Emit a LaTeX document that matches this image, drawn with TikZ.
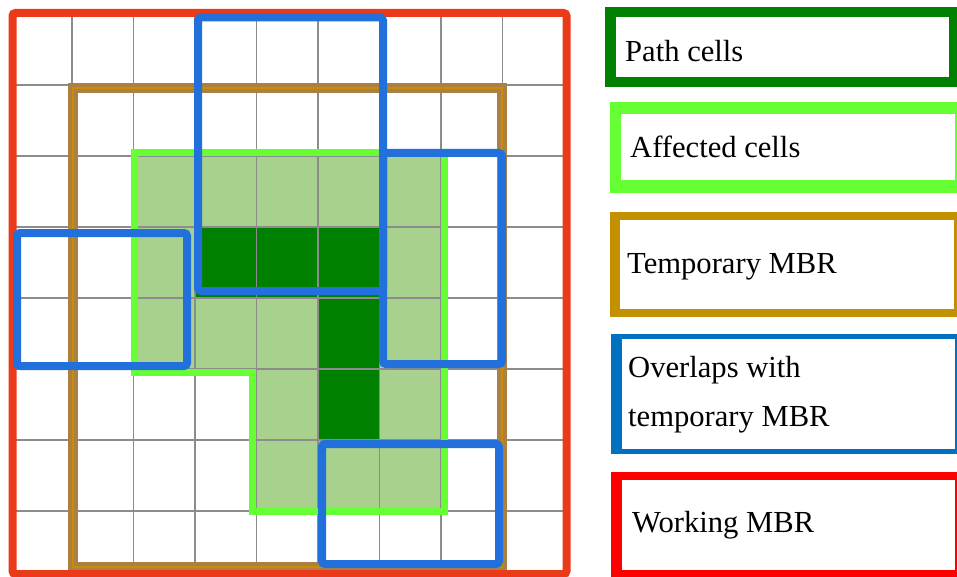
\documentclass[tikz,border=0pt]{standalone}
\usepackage{fontspec}
\setmainfont{Liberation Serif}
\definecolor{wkred}{HTML}{EA3A1A}
\definecolor{ovblue}{HTML}{2170DC}
\definecolor{tanout}{HTML}{AD7F45}
\definecolor{tangold}{HTML}{C39100}
\definecolor{affg}{HTML}{66FF33}
\definecolor{lightg}{HTML}{A9D18E}
\definecolor{darkg}{HTML}{008000}
\definecolor{gridc}{HTML}{8C8C8C}
\definecolor{legblue}{HTML}{0070C0}
\definecolor{legred}{HTML}{FF0000}
\tikzset{
  gridline/.style={draw=gridc, line width=1.3pt},
  lightcell/.style={fill=lightg},
  darkcell/.style={fill=darkg},
  tmpmbr/.style={draw=tanout, line width=10pt, line join=miter},
  tmpmbrin/.style={draw=tangold, line width=2.5pt, line join=miter},
  affline/.style={draw=affg, line width=7pt, line join=miter},
  wmbr/.style={draw=wkred, line width=8pt, rounded corners=3pt},
  ovbox/.style={draw=ovblue, line width=8pt, rounded corners=3pt},
  legtext/.style={anchor=base west, inner sep=0pt, font=\fontsize{30.6}{36}\selectfont, text=black}
}
\begin{document}
\begin{tikzpicture}[x=1pt,y=-1pt]
\useasboundingbox (0,0) rectangle (957,577);
\fill[white] (0,0) rectangle (957,577);
% cells
\foreach \i/\j in {2/2,3/2,4/2,5/2,6/2,2/3,6/3,2/4,3/4,4/4,6/4,4/5,6/5,4/6,5/6,6/6}
  \fill[lightcell] ({10.6+61.5*\i},{14+71*\j}) rectangle ++(61.5,71);
\foreach \i/\j in {3/3,4/3,5/3,5/4,5/5}
  \fill[darkcell] ({10.6+61.5*\i},{14+71*\j}) rectangle ++(61.5,71);
% grid
\foreach \i in {1,...,8}
  \draw[gridline] ({10.6+61.5*\i},14) -- ({10.6+61.5*\i},574);
\foreach \j in {1,...,7}
  \draw[gridline] (12,{14+71*\j}) -- (566,{14+71*\j});
% temporary MBR
\draw[tmpmbr] (73,88) rectangle (502,567);
\draw[tmpmbrin] (73,88) rectangle (502,567);
% affected cells outline
\draw[affline] (134,153) -- (444,153) -- (444,511) -- (252,511) -- (252,372) -- (134,372) -- cycle;
% working MBR
\draw[wmbr] (12.5,13) rectangle (566.5,574);
% overlapping boxes
\draw[ovbox] (198,17.5) rectangle (383,291);
\draw[ovbox] (383,153) rectangle (502,364);
\draw[ovbox] (17,233) rectangle (187,366);
\draw[ovbox] (322,444) rectangle (499,564);
% legend
\fill[darkg] (605,7) rectangle (962,87);
\fill[white] (616,17) rectangle (949,77);
\node[legtext] (lpath) at (625,62) {Path cells};
\fill[affg] (610,102) rectangle (962,193);
\fill[white] (621,114) rectangle (955,180);
\node[legtext] (laff) at (630,158) {Affected cells};
\fill[tangold] (610,212) rectangle (962,317);
\fill[white] (620,220) rectangle (954,309);
\node[legtext] (ltmp) at (627,273) {Temporary MBR};
\fill[legblue] (611,334) rectangle (962,454);
\fill[white] (622,339) rectangle (955,449);
\node[legtext] (lov1) at (628,377) {Overlaps with};
\node[legtext] (lov2) at (628,426) {temporary MBR};
\fill[legred] (611,472) rectangle (962,580);
\fill[white] (622,480) rectangle (955,570);
\node[legtext] (lwork) at (632,532) {Working MBR};
\end{tikzpicture}
\end{document}
